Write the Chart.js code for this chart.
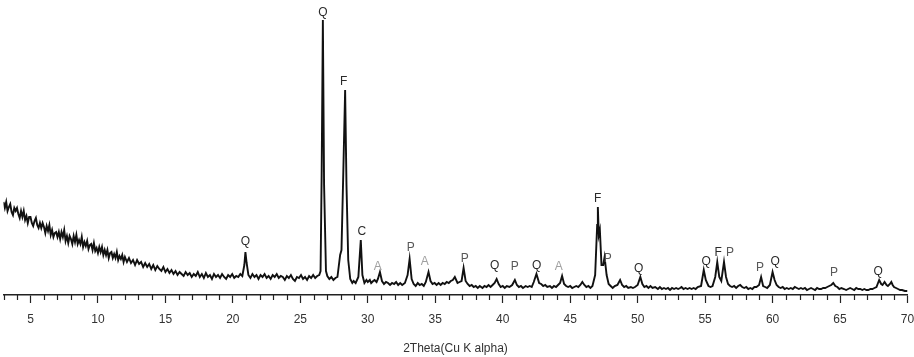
<!DOCTYPE html>
<html>
<head>
<meta charset="utf-8">
<script src="https://cdn.jsdelivr.net/npm/chart.js@4.4.1/dist/chart.umd.min.js"></script>
<style>
  html, body { margin: 0; padding: 0; background: #fff; }
  #wrap { width: 914px; height: 357px; }
</style>
</head>
<body>
<div id="wrap"><canvas id="c" width="914" height="357"></canvas></div>
<script>
// ---- Data: diffraction pattern, [2theta, intensity] ----
const lowAngle = [
  [3.0,93],[3.1,87],[3.2,93],[3.3,84],[3.4,88],[3.5,91],[3.6,83],[3.7,80],[3.8,87],[3.9,84],
  [4.0,87],[4.1,81],[4.2,77],[4.3,84],[4.4,78],[4.5,84],[4.6,75],[4.7,79],[4.8,72],[4.9,78],
  [5.0,78],[5.1,72],[5.2,69],[5.3,74],[5.4,77],[5.5,70],[5.6,67],[5.7,72],[5.8,67],[5.9,72],
  [6.0,68],[6.1,62],[6.2,69],[6.3,64],[6.4,70],[6.5,60],[6.6,65],[6.7,58],[6.8,62],[6.9,63],
  [7.0,58],[7.1,63],[7.2,56],[7.3,63],[7.4,58],[7.5,65],[7.6,54],[7.7,59],[7.8,52],[7.9,59],
  [8.0,56],[8.1,51],[8.2,59],[8.3,53],[8.4,60],[8.5,51],[8.6,55],[8.7,51],[8.8,58],[8.9,48],
  [9.0,53],[9.1,49],[9.2,54],[9.3,46],[9.4,50],[9.5,51],[9.6,45],[9.7,52],[9.8,44],[9.9,47],
  [10.0,42],[10.1,48],[10.2,43],[10.3,48],[10.4,40],[10.5,45],[10.6,40],[10.7,45],[10.8,37],[10.9,42],
  [11.0,43],[11.1,37],[11.2,41],[11.3,37],[11.4,43],[11.5,35],[11.6,39],[11.7,36],[11.8,40],[11.9,33],
  [12.0,38]
];
const bgAngle = [
  [12.15,33],[12.30,37],[12.45,32],[12.60,35],[12.75,30],[12.90,35],[13.05,31],[13.20,33],
  [13.35,28],[13.50,32],[13.65,28],[13.80,31],[13.95,26],[14.10,30],[14.25,25],[14.40,29],
  [14.55,26],[14.70,24],[14.85,28],[15.00,23],[15.15,26],[15.30,22],[15.45,25],[15.60,21],
  [15.75,24],[15.90,20],[16.05,23],[16.20,21],[16.35,19],[16.50,23],[16.65,20],[16.80,22],
  [16.95,18],[17.10,21],[17.25,19],[17.40,23],[17.55,18],[17.70,21],[17.85,17],[18.00,22],
  [18.15,18],[18.30,20],[18.45,16],[18.60,21],[18.75,18],[18.90,20],[19.05,17],[19.20,21],
  [19.35,18],[19.50,16],[19.65,20],[19.80,18],[19.95,21],[20.10,17],[20.25,19],[20.40,18],
  [20.55,21],[20.70,19],[20.85,30],[20.93,43],[21.02,32],[21.15,20],[21.30,17],[21.45,21],
  [21.60,18],[21.75,20],[21.90,16],[22.05,20],[22.20,18],[22.35,21],[22.50,17],[22.65,19],
  [22.80,16],[22.95,20],[23.10,18],[23.25,21],[23.40,17],[23.55,19],[23.70,18],[23.85,15],
  [24.00,19],[24.15,17],[24.30,20],[24.45,16],[24.60,14],[24.75,18],[24.90,17],[25.05,20],
  [25.20,16],[25.35,18],[25.50,15],[25.65,19],[25.80,17],[25.95,20],[26.10,17],[26.25,19],
  [26.40,20]
];
const midAngle = [
  [26.50,24],[26.58,120],[26.67,275],[26.76,110],
  [26.90,24],[27.00,19],[27.15,16],[27.30,18],[27.45,15],[27.60,17],[27.75,18],[27.95,40],[28.05,45],[28.18,120],
  [28.32,205],[28.42,110],[28.55,35],[28.70,16],[28.85,12],[28.95,14],[29.10,12],[29.30,18],[29.48,55],
  [29.60,20],[29.75,12],[29.90,15],[30.00,13],[30.15,15],[30.25,12],[30.40,14],[30.50,15],[30.65,13],[30.75,16],[30.90,23],[31.05,14],
  [31.20,11],[31.35,13],[31.50,12],[31.65,10],[31.80,12],[31.95,11],[32.10,13],[32.25,10],[32.40,12],[32.55,10],[32.75,12],[32.95,20],
  [33.10,36],[33.25,16],[33.40,11],[33.55,9],[33.70,12],[33.85,10],[34.00,11],[34.15,9],[34.30,13],[34.50,23],[34.65,14],
  [34.80,11],[34.95,12],[35.10,10],[35.25,12],[35.40,10],[35.55,12],[35.70,11],[35.85,13],[36.00,12],[36.15,14],[36.30,15],[36.45,18],[36.65,12],
  [36.80,13],[36.95,14],[37.10,27],[37.25,14],[37.40,11],[37.55,9],[37.70,10],[37.85,8],[38.00,9],[38.15,7],[38.30,9],[38.50,7],
  [38.65,9],[38.80,8],[38.95,10],[39.10,8],[39.25,10],[39.40,12],[39.55,16],[39.70,11],[39.85,8],[40.00,9],[40.15,7],[40.30,9],[40.50,8],
  [40.70,10],[40.90,15],[41.05,10],[41.20,8],[41.35,9],[41.50,7],[41.70,9],[41.85,8],[42.00,9],[42.15,8],[42.30,13],[42.50,21],[42.70,12],
  [42.85,11],[43.00,9],[43.15,10],[43.30,8],[43.50,9],[43.65,7],[43.80,9],[43.95,8],[44.10,10],[44.25,12],[44.40,19],[44.55,11],
  [44.70,9],[44.85,8],[45.00,9],[45.15,7],[45.30,8],[45.45,9],[45.60,8],[45.75,10],[45.90,13],[46.05,10],[46.20,8],[46.35,9],[46.50,7],[46.65,9]
];
const highAngle = [
  [46.85,20],[47.00,70],[47.05,88],[47.12,60],[47.20,65],[47.32,30],[47.45,30],[47.55,38],
  [47.70,20],[47.85,11],[48.00,9],[48.15,7],[48.30,9],[48.50,10],[48.70,15],[48.85,10],[49.00,8],[49.15,9],[49.30,7],[49.50,8],
  [49.65,7],[49.80,8],[50.00,10],[50.20,18],[50.35,11],[50.50,8],[50.65,9],[50.80,7],[50.95,9],[51.10,7],[51.30,8],[51.50,6],
  [51.65,8],[51.80,6],[51.95,7],[52.10,6],[52.25,7],[52.40,5],[52.55,7],[52.70,6],[52.85,7],[53.00,6],[53.15,7],[53.25,8],[53.40,6],[53.55,7],[53.70,6],
  [53.85,7],[54.00,6],[54.15,7],[54.30,6],[54.45,8],[54.70,9],[54.90,25],[55.05,15],[55.25,9],[55.40,8],[55.55,9],[55.75,18],
  [55.90,33],[56.05,18],[56.20,14],[56.40,33],[56.55,18],[56.70,11],[56.85,9],[57.00,8],[57.15,9],[57.30,7],[57.45,9],
  [57.60,10],[57.75,8],[57.90,7],[58.05,8],[58.20,6],[58.35,7],[58.50,6],[58.65,8],[58.80,8],[59.00,10],[59.15,18],[59.30,9],
  [59.45,8],[59.60,7],[59.80,10],[60.00,23],[60.15,15],[60.30,10],[60.45,8],[60.60,7],[60.75,8],[60.90,6],[61.05,7],[61.20,6],
  [61.35,7],[61.50,6],[61.65,8],[61.80,7],[61.95,6],[62.10,7],[62.25,6],[62.40,7],[62.55,5],[62.70,6],[62.85,7],[63.00,6],[63.15,5],[63.30,7],[63.45,6],[63.60,6],
  [63.75,7],[63.90,7],[64.05,8],[64.20,9],[64.35,10],[64.50,12],[64.65,9],[64.80,8],[64.95,6],[65.10,7],[65.30,6],[65.45,5],[65.60,6],[65.75,7],[65.90,6],
  [66.05,5],[66.20,7],[66.35,6],[66.50,6],[66.65,5],[66.80,6],[66.95,5],[67.10,5],[67.25,6],[67.40,6],[67.55,7],[67.70,8],[67.90,15],[68.05,11],[68.15,10],
  [68.30,13],[68.45,10],[68.55,9],[68.70,11],[68.80,13],[68.90,10],[69.00,8],[69.15,7],[69.30,6],[69.45,5],[69.60,5],[69.80,4],[70.00,4]
];

// Phase labels: letter, 2theta of label, intensity level of label centre
const phaseNames  = ['Q','Q','F','C','A','P','A','P','Q','P','Q','A','F','P','Q','Q','F','P','P','Q','P','Q'];
const labelAngles = [20.93,26.67,28.22,29.55,30.74,33.18,34.22,37.18,39.41,40.89,42.52,44.15,47.04,47.78,50.07,55.07,55.96,56.85,59.07,60.19,64.56,67.82];
const labelLevels = [53,282,213,63,28,47,33,36,29,28,29,28,96,36,26,33,42,42,27,33,22,23];

const axisTitle = '2Theta(Cu K alpha)';

const phaseColor = { Q: '#2a2a2a', F: '#2a2a2a', C: '#2a2a2a', P: '#585858', A: '#a0a0a0' };

const pattern = lowAngle.concat(bgAngle, midAngle, highAngle).map(p => ({ x: p[0], y: p[1] }));

const FONT = 'Liberation Sans, Arial, sans-serif';

const minorTicks = {
  id: 'minorTicks',
  afterDraw(chart) {
    const xs = chart.scales.x, ctx = chart.ctx;
    const y0 = chart.chartArea.bottom;
    ctx.save();
    ctx.strokeStyle = '#222';
    ctx.lineWidth = 1.2;
    for (let v = Math.ceil(xs.min); v <= xs.max; v++) {
      if (v % 5 === 0) continue;
      const px = Math.round(xs.getPixelForValue(v)) + 0.5;
      ctx.beginPath();
      ctx.moveTo(px, y0);
      ctx.lineTo(px, y0 + 5);
      ctx.stroke();
    }
    ctx.restore();
  }
};

const phaseLabels = {
  id: 'phaseLabels',
  afterDatasetsDraw(chart) {
    const xs = chart.scales.x, ys = chart.scales.y, ctx = chart.ctx;
    ctx.save();
    ctx.font = '12px ' + FONT;
    ctx.textAlign = 'center';
    ctx.textBaseline = 'middle';
    phaseNames.forEach((n, i) => {
      ctx.fillStyle = phaseColor[n];
      ctx.fillText(n, xs.getPixelForValue(labelAngles[i]), ys.getPixelForValue(labelLevels[i]));
    });
    ctx.restore();
  }
};

new Chart(document.getElementById('c'), {
  type: 'line',
  data: {
    datasets: [{
      data: pattern,
      borderColor: '#111',
      borderWidth: 1.9,
      pointRadius: 0,
      tension: 0,
      fill: false
    }]
  },
  options: {
    responsive: false,
    animation: false,
    devicePixelRatio: 1,
    layout: { padding: { left: 3.5, right: 6.5, top: 5, bottom: 0 } },
    plugins: { legend: { display: false }, tooltip: { enabled: false } },
    scales: {
      y: { display: false, min: 0, max: 290 },
      x: {
        type: 'linear',
        min: 3, max: 70,
        border: { display: true, color: '#222', width: 1.5 },
        grid: {
          drawOnChartArea: false,
          drawTicks: true,
          tickLength: 8,
          tickWidth: 1.2,
          tickColor: c => (c.tick && c.tick.value % 5 === 0) ? '#222' : 'rgba(0,0,0,0)'
        },
        ticks: {
          stepSize: 1,
          autoSkip: false,
          maxRotation: 0,
          minRotation: 0,
          padding: 9,
          color: '#333',
          font: { size: 12, family: FONT },
          callback: v => (v % 5 === 0 ? String(v) : '')
        },
        title: {
          display: true,
          text: axisTitle,
          color: '#333',
          font: { size: 12, family: FONT },
          padding: { top: 0, bottom: 1 }
        },
        afterFit: s => { s.height = 62; s.paddingLeft = 0; s.paddingRight = 0; }
      }
    }
  },
  plugins: [minorTicks, phaseLabels]
});
</script>
</body>
</html>
